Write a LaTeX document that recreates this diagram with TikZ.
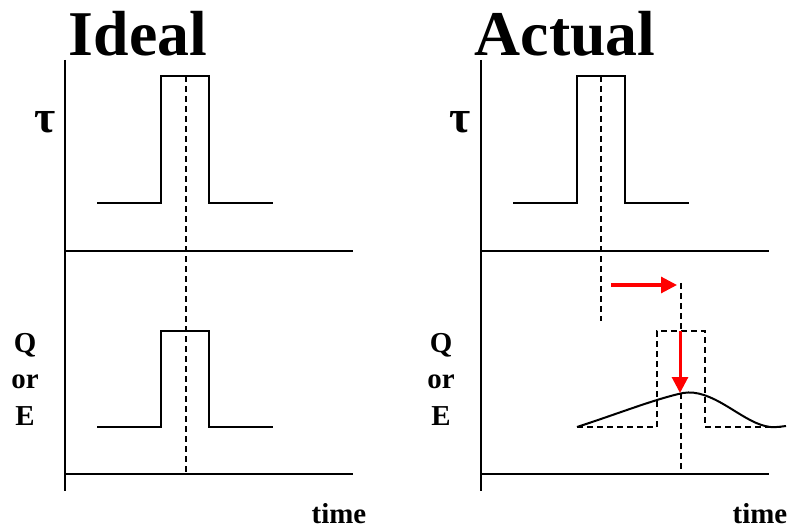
\documentclass[tikz,border=0pt]{standalone}
\usepackage{fontspec}
\setmainfont{Liberation Serif}
\usetikzlibrary{arrows.meta}
\begin{document}
\begin{tikzpicture}[x=1bp,y=-1bp,
  axis/.style={line width=2bp},
  sig/.style={line width=2bp},
  dsh/.style={line width=1.8bp, dash pattern=on 6bp off 4bp},
  redarrow/.style={red, line width=3bp, -{Triangle[length=16bp,width=16bp]}},
  title/.style={font=\bfseries\fontsize{64}{64}\selectfont, anchor=base, inner sep=0},
  lab/.style={font=\bfseries\fontsize{29}{29}\selectfont, anchor=base, inner sep=0},
  taul/.style={font=\bfseries\fontsize{46}{46}\selectfont, anchor=base, inner sep=0}]
\useasboundingbox (0,0) rectangle (792,529);
% titles
\node[title] (tI) at (138,56) {Ideal};
\node[title] (tA) at (565,56) {Actual};
% labels
\node[taul] (tau1) at (45,133) {τ};
\node[taul] (tau2) at (460,133) {τ};
\node[lab] (q1) at (25,352) {Q};
\node[lab] (or1) at (25,388) {or};
\node[lab] (e1) at (25,425) {E};
\node[lab] (q2) at (441,352) {Q};
\node[lab] (or2) at (441,388) {or};
\node[lab] (e2) at (441,425) {E};
\node[lab] (time1) at (339,523) {time};
\node[lab] (time2) at (760,523) {time};
% left axes
\draw[axis] (65,60) -- (65,491);
\draw[axis] (65,251) -- (353,251);
\draw[axis] (65,474) -- (353,474);
% right axes
\draw[axis] (481,60) -- (481,491);
\draw[axis] (481,251) -- (769,251);
\draw[axis] (481,474) -- (769,474);
% left pulses
\draw[sig] (97,203) -- (161,203) -- (161,76) -- (209,76) -- (209,203) -- (273,203);
\draw[sig] (97,427) -- (161,427) -- (161,331) -- (209,331) -- (209,427) -- (273,427);
\draw[dsh] (186,76) -- (186,474);
% right top pulse
\draw[sig] (513,203) -- (577,203) -- (577,76) -- (625,76) -- (625,203) -- (689,203);
\draw[dsh] (601,76) -- (601,321);
\draw[dsh] (681,283) -- (681,474);
% right dashed ideal pulse
\draw[dsh] (577,427) -- (657,427) -- (657,331) -- (705,331) -- (705,427) -- (785,427);
% actual curve
\draw[sig] (577,427) .. controls (620,413) and (655,399) .. (683,393)
  .. controls (712,388) and (740,420) .. (765,426)
  .. controls (772,428) and (778,427) .. (786,426);
% red arrows
\coordinate (ra1) at (611,285);
\coordinate (ra2) at (677,285);
\coordinate (rb1) at (680,331);
\coordinate (rb2) at (680,393);
\draw[redarrow] (ra1) -- (ra2);
\draw[redarrow] (rb1) -- (rb2);
\end{tikzpicture}
\end{document}
